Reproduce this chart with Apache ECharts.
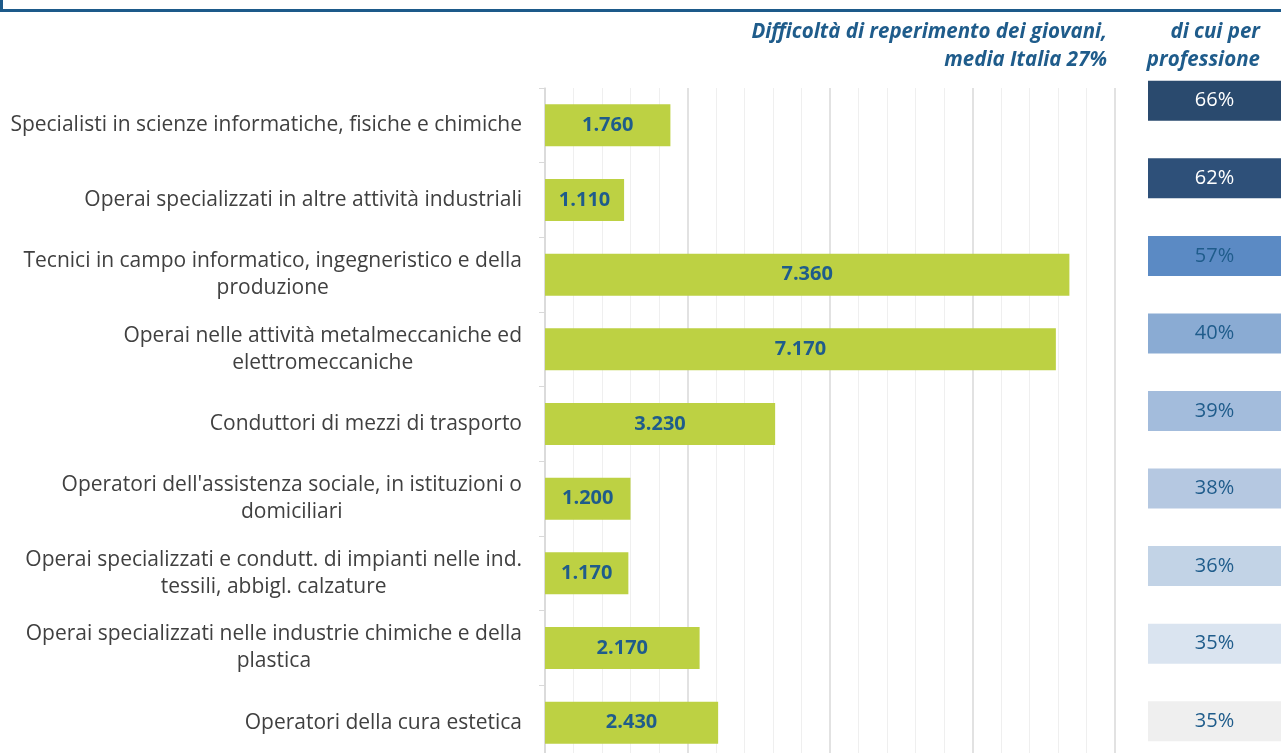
<!DOCTYPE html>
<html>
<head>
<meta charset="utf-8">
<script src="https://cdn.jsdelivr.net/npm/echarts@6/dist/echarts.min.js"></script>
<style>
  html, body { margin: 0; padding: 0; background: #fff; }
  #chart { width: 1281px; height: 753px; }
</style>
</head>
<body>
<div id="chart"></div>
<script>
// categorie (professioni), dall'alto verso il basso
const categories = [
  'Specialisti in scienze informatiche, fisiche e chimiche',
  'Operai specializzati in altre attività industriali',
  'Tecnici in campo informatico, ingegneristico e della\nproduzione',
  'Operai nelle attività metalmeccaniche ed\nelettromeccaniche',
  'Conduttori di mezzi di trasporto',
  "Operatori dell'assistenza sociale, in istituzioni o\ndomiciliari",
  'Operai specializzati e condutt. di impianti nelle ind.\ntessili, abbigl. calzature',
  'Operai specializzati nelle industrie chimiche e della\nplastica',
  'Operatori della cura estetica'
];
// entrate di giovani
const values = [1760, 1110, 7360, 7170, 3230, 1200, 1170, 2170, 2430];
// difficoltà di reperimento per professione (%)
const percents = [66, 62, 57, 40, 39, 38, 36, 35, 35];

const boxColors = ['#2a4a6e', '#2e5079', '#5b8ac4', '#8aabd3', '#a3bcdc',
                   '#b5c8e1', '#c2d3e6', '#dae4f0', '#efefef'];
const blue = '#1f5c8b';
const font = '"Open Sans", sans-serif';

const fmt = v => String(v).replace(/\B(?=(\d{3})+(?!\d))/g, '.');

const chart = echarts.init(document.getElementById('chart'));
chart.setOption({
  animation: false,
  textStyle: { fontFamily: font },
  grid: [
    { left: 545, width: 570, top: 88, height: 672, outerBoundsMode: 'none', containLabel: false },
    { left: 1148, width: 133, top: 62, height: 698, outerBoundsMode: 'none', containLabel: false }
  ],
  xAxis: [
    {
      gridIndex: 0, type: 'value', min: 0, max: 8000, interval: 2000,
      axisLabel: { show: false }, axisLine: { show: false }, axisTick: { show: false },
      splitLine: { lineStyle: { color: '#d9d9d9', width: 1.5 } },
      minorTick: { show: false, splitNumber: 5 },
      minorSplitLine: { show: true, lineStyle: { color: '#efefef', width: 1 } }
    },
    { gridIndex: 1, type: 'category', data: ['pct'], show: false }
  ],
  yAxis: [
    {
      gridIndex: 0, type: 'category', inverse: true, data: categories,
      axisLine: { lineStyle: { color: '#d9d9d9', width: 1.5 } },
      axisTick: { show: true, length: 6, lineStyle: { color: '#d9d9d9' } },
      axisLabel: {
        margin: 23, color: '#404040', fontSize: 21, fontFamily: font,
        lineHeight: 27,
        formatter: v => v.split('\n').map(s => '{c|' + s + '}').join('\n'),
        rich: { c: { align: 'center', fontSize: 21, lineHeight: 27, color: '#404040', fontFamily: font } }
      }
    },
    { gridIndex: 1, type: 'category', inverse: true, data: categories, show: false }
  ],
  series: [
    {
      type: 'bar', xAxisIndex: 0, yAxisIndex: 0, data: values, barWidth: 42,
      itemStyle: { color: '#bdd143' },
      label: {
        show: true, position: 'inside', color: blue, fontWeight: 'bold',
        fontSize: 20, fontFamily: font, formatter: p => fmt(p.value)
      }
    },
    {
      type: 'custom', xAxisIndex: 1, yAxisIndex: 1,
      data: percents.map((p, i) => [0, i, p]),
      renderItem: (params, api) => {
        const i = params.dataIndex;
        const c = api.coord([0, api.value(1)]);
        const cs = params.coordSys;
        return {
          type: 'rect',
          shape: { x: cs.x, y: c[1] - 20, width: cs.width, height: 40 },
          style: { fill: boxColors[i] },
          textContent: {
            style: {
              text: api.value(2) + '%', fill: i < 2 ? '#ffffff' : blue,
              font: '20px ' + font
            }
          },
          textConfig: { position: 'inside' }
        };
      }
    }
  ],
  graphic: [
    { type: 'line', shape: { x1: 0, y1: 10.5, x2: 1281, y2: 10.5 }, style: { stroke: '#1d5a8a', lineWidth: 3 } },
    { type: 'line', shape: { x1: 1.5, y1: 0, x2: 1.5, y2: 12 }, style: { stroke: '#1d5a8a', lineWidth: 3 } },
    {
      type: 'text', left: 258, top: -21,
      style: {
        text: '(valori assoluti e quota % di difficoltà di reperimento per i giovani, principali gruppi)',
        fill: blue, font: 'italic 20px ' + font
      }
    },
    {
      type: 'text', x: 1107, y: 32,
      style: {
        text: 'Difficoltà di reperimento dei giovani,', fill: blue,
        font: 'italic bold 20.5px ' + font, align: 'right', verticalAlign: 'middle'
      }
    },
    {
      type: 'text', x: 1107, y: 60,
      style: {
        text: 'media Italia 27%', fill: blue,
        font: 'italic bold 20.5px ' + font, align: 'right', verticalAlign: 'middle'
      }
    },
    {
      type: 'text', x: 1260, y: 32,
      style: {
        text: 'di cui per', fill: blue,
        font: 'italic bold 20.5px ' + font, align: 'right', verticalAlign: 'middle'
      }
    },
    {
      type: 'text', x: 1260, y: 60,
      style: {
        text: 'professione', fill: blue,
        font: 'italic bold 20.5px ' + font, align: 'right', verticalAlign: 'middle'
      }
    }
  ]
});
</script>
</body>
</html>
